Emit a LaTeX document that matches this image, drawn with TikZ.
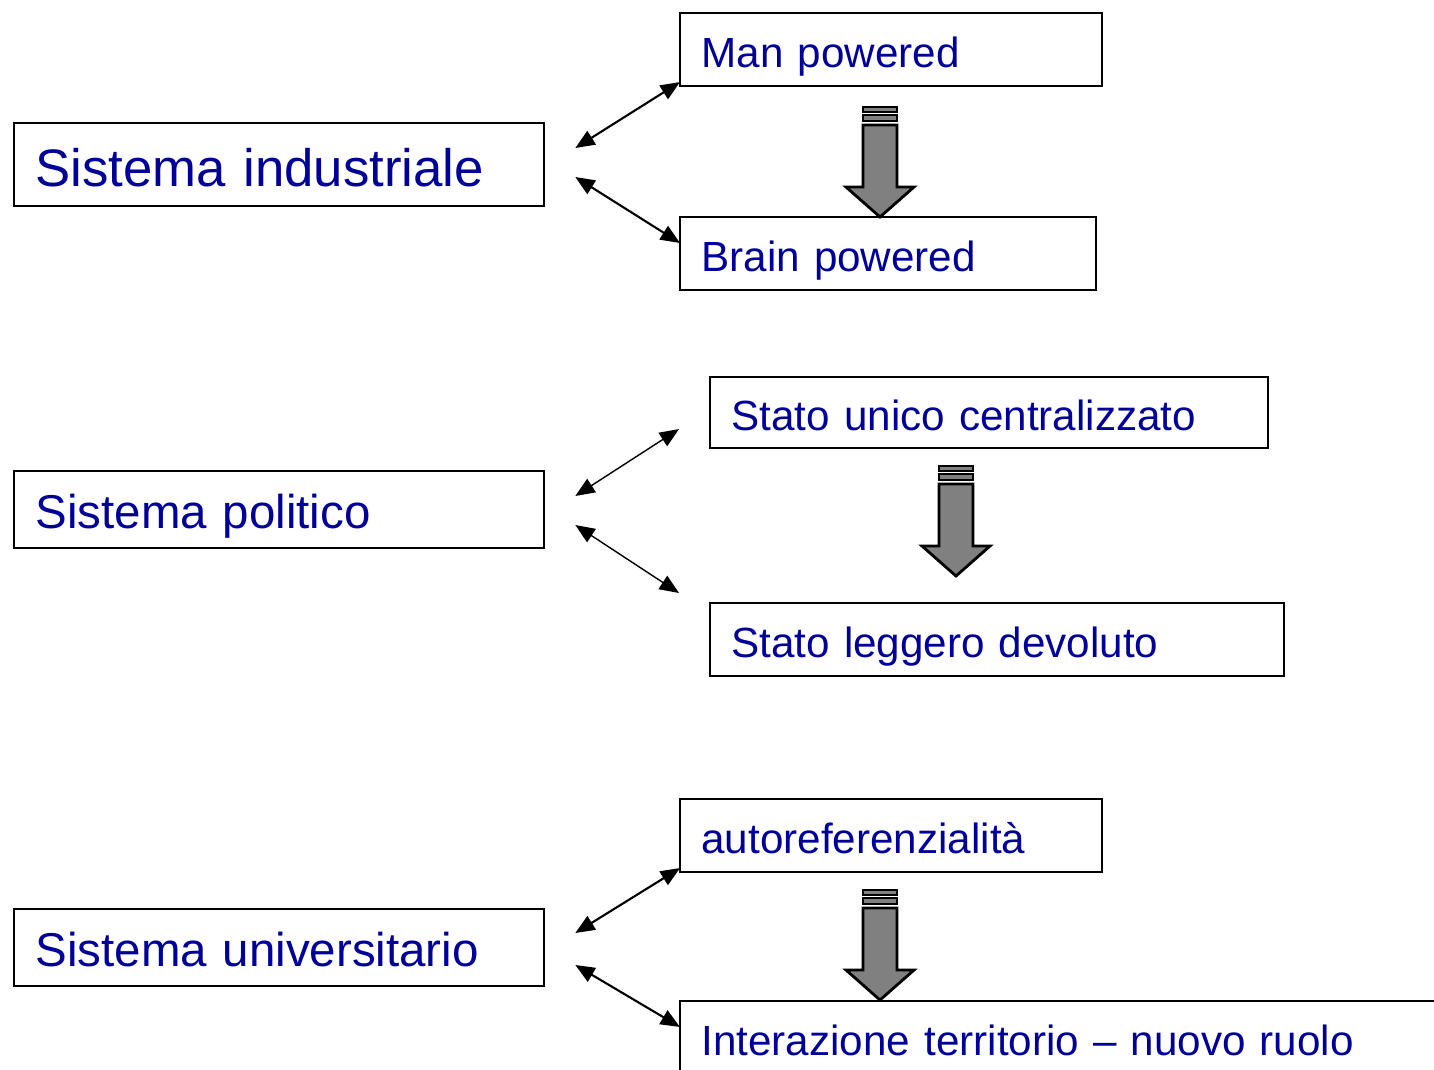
\documentclass[tikz,border=0pt]{standalone}
\usepackage{fontspec}
\setmainfont{Liberation Sans}
\usetikzlibrary{arrows.meta}

\begin{document}
\begin{tikzpicture}[x=0.01cm, y=-0.01cm]

% Define colors
\definecolor{textblue}{RGB}{0,0,153}
\definecolor{shiftgray}{RGB}{128,128,128}

% Styles
\tikzset{
    sysbox/.style={draw, line width=0.6pt, anchor=north west, outer sep=0pt,
        inner xsep=0.215cm, inner ysep=0pt, align=left, text=textblue,
        font=\fontsize{13.5pt}{16pt}\selectfont, text height=0.37cm, text depth=0pt},
    optbox/.style={sysbox, font=\fontsize{12pt}{14pt}\selectfont, text height=0.35cm},
    link/.style={<->, >={Triangle[length=5.5pt, width=4.5pt]}, line width=0.6pt},
}

% Frame of the page
\clip (0,0) rectangle (1434,1069);

% Sistema industriale
\node[sysbox, font=\fontsize{15pt}{18pt}\selectfont, text height=0.43cm,
    text width=4.87cm, minimum height=0.83cm] (ind) at (14,123) {Sistema industriale};
\node[optbox, text width=3.79cm, minimum height=0.73cm] (man) at (680,13) {Man powered};
\node[optbox, text width=3.73cm, minimum height=0.73cm] (brain) at (680,217) {Brain powered};
\draw[link] ([shift={(31,25)}]ind.north east) -- ([shift={(0,-4)}]man.south west);
\draw[link] ([shift={(31,54)}]ind.north east) -- ([shift={(0,26)}]brain.north west);

% Sistema politico
\node[sysbox, text width=4.87cm, minimum height=0.77cm] (pol) at (14,471) {Sistema politico};
\node[optbox, text width=5.15cm, minimum height=0.71cm] (unico) at (710,377) {Stato unico centralizzato};
\node[optbox, text width=5.31cm, minimum height=0.73cm] (legg) at (710,603) {Stato leggero devoluto};
\draw[link, line width=0.4pt] ([shift={(31,25)}]pol.north east) -- ([shift={(-31,-19)}]unico.south west);
\draw[link, line width=0.4pt] ([shift={(31,54)}]pol.north east) -- ([shift={(-31,-10)}]legg.north west);

% Sistema universitario
\node[sysbox, text width=4.87cm, minimum height=0.77cm] (uni) at (14,909) {Sistema universitario};
\node[optbox, text width=3.79cm, minimum height=0.73cm] (auto) at (680,799) {autoreferenzialità};
\node[optbox, text width=7.57cm, minimum height=0.74cm] (inter) at (680,1001) {Interazione territorio -- nuovo ruolo};
\draw[link] ([shift={(31,24)}]uni.north east) -- ([shift={(0,-4)}]auto.south west);
\draw[link] ([shift={(31,56)}]uni.north east) -- ([shift={(0,26)}]inter.north west);

% Block arrows from old to new
\foreach \x/\y in {880/107, 956/466, 880/890} {
    \filldraw[fill=shiftgray, line width=0.8pt] (\x-17,\y) rectangle (\x+17,\y+5);
    \filldraw[fill=shiftgray, line width=0.8pt] (\x-17,\y+8) rectangle (\x+17,\y+14);
    \filldraw[fill=shiftgray, line width=0.8pt] (\x-17,\y+18) -- (\x+17,\y+18) -- (\x+17,\y+80)
        -- (\x+34,\y+80) -- (\x,\y+110) -- (\x-34,\y+80) -- (\x-17,\y+80) -- cycle;
}

\end{tikzpicture}
\end{document}
